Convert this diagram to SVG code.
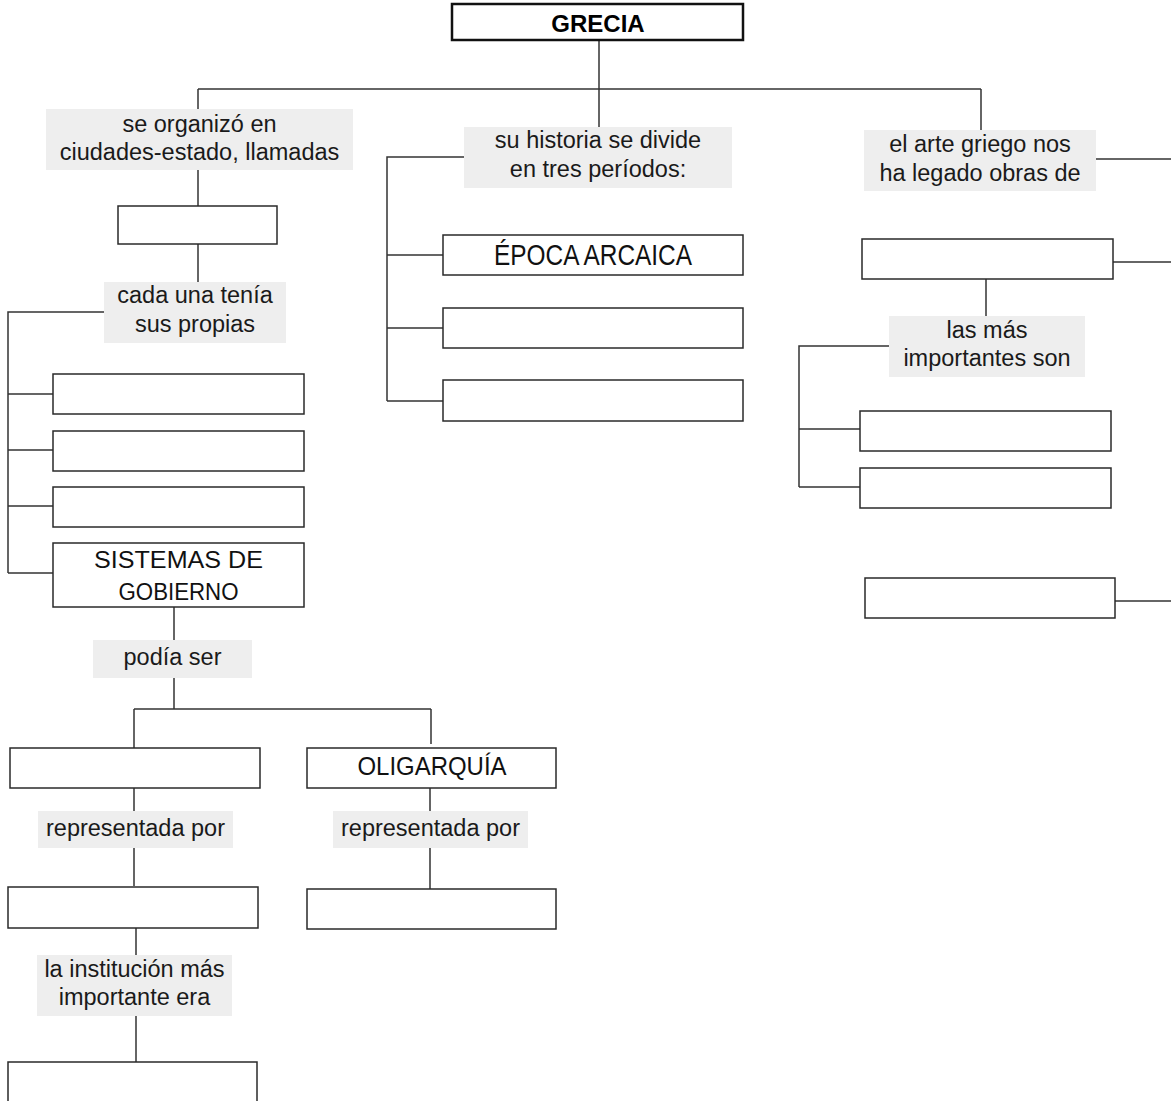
<svg xmlns="http://www.w3.org/2000/svg" width="1171" height="1101" viewBox="0 0 1171 1101">
<style>
.bg{fill:#ffffff}
.lbl{fill:#eeeeee;stroke:none}
.box{fill:#ffffff;stroke:#2a2a2a;stroke-width:1.5}
.root{fill:#ffffff;stroke:#111111;stroke-width:2.5}
.t{font-family:"Liberation Sans",Arial,sans-serif;font-size:23.5px;fill:#1a1a1a;text-anchor:middle}
.tc{font-family:"Liberation Sans",Arial,sans-serif;fill:#111111;text-anchor:middle}
.tb{font-family:"Liberation Sans",Arial,sans-serif;font-size:24px;font-weight:bold;fill:#000;text-anchor:middle}
.c{fill:none;stroke:#333333;stroke-width:1.5}
</style>
<rect class="bg" x="0" y="0" width="1171" height="1101"/>
<g id="connectors">
<path class="c" d="M599 40V127"/>
<path class="c" d="M198 89H981"/>
<path class="c" d="M198 89V109"/>
<path class="c" d="M981 89V130"/>
<path class="c" d="M198 170V206"/>
<path class="c" d="M198 244V282"/>
<path class="c" d="M104 312H8V573"/>
<path class="c" d="M8 394H53M8 450H53M8 506H53M8 573H53"/>
<path class="c" d="M174 607V640"/>
<path class="c" d="M174 678V709"/>
<path class="c" d="M134 709H431"/>
<path class="c" d="M134 709V748"/>
<path class="c" d="M431 709V744"/>
<path class="c" d="M134 788V811M134 848V886"/>
<path class="c" d="M430 788V811M430 848V889"/>
<path class="c" d="M136 928V955"/>
<path class="c" d="M136 1016V1062"/>
<path class="c" d="M464 157H387V401"/>
<path class="c" d="M387 255H443M387 328H443M387 401H443"/>
<path class="c" d="M1096 159H1171"/>
<path class="c" d="M1113 262H1171"/>
<path class="c" d="M986 279V316"/>
<path class="c" d="M889 346H799V487"/>
<path class="c" d="M799 429H860M799 487H860"/>
<path class="c" d="M1115 601H1171"/>
</g>
<g id="n-grecia"><rect class="root" x="452" y="4" width="291" height="36"/><text class="tb" x="598" y="32">GRECIA</text></g>
<g id="l-organizo"><rect class="lbl" x="46" y="109" width="307" height="61"/><text class="t" x="199.5" y="132">se organizó en</text><text class="t" x="199.5" y="160">ciudades-estado, llamadas</text></g>
<g id="n-polis"><rect class="box" x="118" y="206" width="159" height="38"/></g>
<g id="l-cada"><rect class="lbl" x="104" y="282" width="182" height="61"/><text class="t" x="195" y="303">cada una tenía</text><text class="t" x="195" y="332">sus propias</text></g>
<g id="n-p1"><rect class="box" x="53" y="374" width="251" height="40"/></g>
<g id="n-p2"><rect class="box" x="53" y="431" width="251" height="40"/></g>
<g id="n-p3"><rect class="box" x="53" y="487" width="251" height="40"/></g>
<g id="n-sistemas"><rect class="box" x="53" y="543" width="251" height="64"/><text class="tc" x="178.5" y="568" font-size="23.5" textLength="169" lengthAdjust="spacingAndGlyphs">SISTEMAS DE</text><text class="tc" x="178.5" y="600" font-size="23.5" textLength="120" lengthAdjust="spacingAndGlyphs">GOBIERNO</text></g>
<g id="l-podia"><rect class="lbl" x="93" y="640" width="159" height="38"/><text class="t" x="172.5" y="665">podía ser</text></g>
<g id="n-democracia"><rect class="box" x="10" y="748" width="250" height="40"/></g>
<g id="n-oligarquia"><rect class="box" x="307" y="748" width="249" height="40"/><text class="tc" x="432" y="775" font-size="25" textLength="149" lengthAdjust="spacingAndGlyphs">OLIGARQUÍA</text></g>
<g id="l-rep1"><rect class="lbl" x="38" y="811" width="195" height="37"/><text class="t" x="135.5" y="836">representada por</text></g>
<g id="l-rep2"><rect class="lbl" x="333" y="811" width="195" height="37"/><text class="t" x="430.5" y="836">representada por</text></g>
<g id="n-d2"><rect class="box" x="8" y="887" width="250" height="41"/></g>
<g id="n-o2"><rect class="box" x="307" y="889" width="249" height="40"/></g>
<g id="l-institucion"><rect class="lbl" x="37" y="955" width="195" height="61"/><text class="t" x="134.5" y="977">la institución más</text><text class="t" x="134.5" y="1005">importante era</text></g>
<g id="n-d3"><rect class="box" x="8" y="1062" width="249" height="60"/></g>
<g id="l-historia"><rect class="lbl" x="464" y="127" width="268" height="61"/><text class="t" x="598" y="148">su historia se divide</text><text class="t" x="598" y="177">en tres períodos:</text></g>
<g id="n-arcaica"><rect class="box" x="443" y="235" width="300" height="40"/><text class="tc" x="593" y="265" font-size="29" textLength="198" lengthAdjust="spacingAndGlyphs">ÉPOCA ARCAICA</text></g>
<g id="n-e2"><rect class="box" x="443" y="308" width="300" height="40"/></g>
<g id="n-e3"><rect class="box" x="443" y="380" width="300" height="41"/></g>
<g id="l-arte"><rect class="lbl" x="864" y="130" width="232" height="61"/><text class="t" x="980" y="152">el arte griego nos</text><text class="t" x="980" y="181">ha legado obras de</text></g>
<g id="n-a1"><rect class="box" x="862" y="239" width="251" height="40"/></g>
<g id="l-importantes"><rect class="lbl" x="889" y="316" width="196" height="61"/><text class="t" x="987" y="338">las más</text><text class="t" x="987" y="366">importantes son</text></g>
<g id="n-a2"><rect class="box" x="860" y="411" width="251" height="40"/></g>
<g id="n-a3"><rect class="box" x="860" y="468" width="251" height="40"/></g>
<g id="n-a4"><rect class="box" x="865" y="578" width="250" height="40"/></g>
</svg>
